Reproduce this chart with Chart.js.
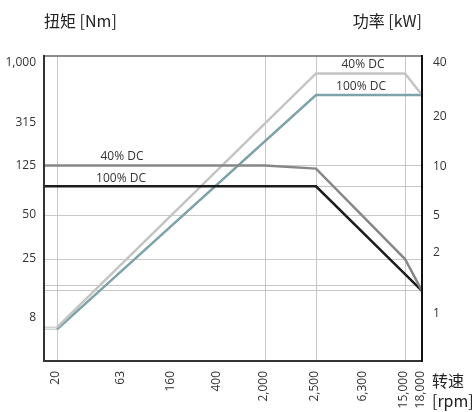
<!DOCTYPE html>
<html>
<head>
<meta charset="utf-8">
<script src="https://cdn.jsdelivr.net/npm/chart.js@4.4.0/dist/chart.umd.min.js"></script>
<style>
  body { margin: 0; background: #fff; }
  #wrap { width: 472px; height: 412px; }
</style>
</head>
<body>
<div id="wrap"><canvas id="chart"></canvas></div>
<script>
// axis tick values (rpm, Nm, kW)
const speedTicks = [20, 63, 160, 400, 2000, 2500, 6300, 15000, 18000];
const torqueTicks = [8, 25, 50, 125, 315, 1000];
const powerTicks = [1, 2, 5, 10, 20, 40];

// values that get a grid line
const speedGrid = [20, 2000, 2500, 15000];
const torqueGrid = [13.5, 15, 25, 50, 85, 125];

// torque curves [Nm]
const torqueSpeed40 = [16, 2000, 2500, 15000, 18000];
const torque40 = [125, 125, 118, 25, 13.5];
const torqueSpeed100 = [16, 2500, 18000];
const torque100 = [85, 85, 13.5];

// power curves [kW]
const powerSpeed40 = [16, 20, 2500, 15000, 18000];
const power40 = [0.86, 0.86, 35, 35, 26.5];
const powerSpeed100 = [16, 20, 2500, 18000];
const power100 = [0.84, 0.84, 26.5, 26.5];

// the drawing's axes are not to any regular scale, so each axis gets
// a list of [value, fraction of axis length] stops, log-interpolated between
class SegmentedScale extends Chart.LinearScale {
  determineDataLimits() {
    const s = this.options.stops;
    this.min = s[0][0];
    this.max = s[s.length - 1][0];
  }
  buildTicks() {
    return this.options.tickValues.map(v => ({ value: v }));
  }
  _fraction(v) {
    const s = this.options.stops;
    let i = 0;
    while (i < s.length - 2 && v > s[i + 1][0]) i++;
    const [v0, f0] = s[i], [v1, f1] = s[i + 1];
    return f0 + (Math.log(v) - Math.log(v0)) / (Math.log(v1) - Math.log(v0)) * (f1 - f0);
  }
  getPixelForValue(v) {
    const f = this._fraction(v);
    return this.isHorizontal() ? this.left + f * this.width : this.bottom - f * this.height;
  }
  getValueForPixel(p) {
    const f = this.isHorizontal() ? (p - this.left) / this.width : (this.bottom - p) / this.height;
    const s = this.options.stops;
    let i = 0;
    while (i < s.length - 2 && f > s[i + 1][1]) i++;
    const [v0, f0] = s[i], [v1, f1] = s[i + 1];
    return Math.exp(Math.log(v0) + (f - f0) / (f1 - f0) * (Math.log(v1) - Math.log(v0)));
  }
}
SegmentedScale.id = 'segmented';
SegmentedScale.defaults = {};
Chart.register(SegmentedScale);

const fmt = v => v.toLocaleString('en-US');
const pts = (xs, ys) => xs.map((x, i) => ({ x: x, y: ys[i] }));
const tickFont = { family: "'Open Sans', 'Noto Sans', sans-serif", size: 12 };
const cjkFont = "16px 'Noto Sans CJK SC', 'Open Sans', sans-serif";

const decorations = {
  id: 'decorations',
  afterDatasetsDraw(chart) {
    const { ctx, chartArea: a, scales } = chart;
    ctx.save();
    // frame
    ctx.lineCap = 'square';
    ctx.strokeStyle = '#666'; ctx.lineWidth = 1.5;
    ctx.beginPath(); ctx.moveTo(a.left, a.top); ctx.lineTo(a.right, a.top); ctx.stroke();
    ctx.strokeStyle = '#333'; ctx.lineWidth = 2;
    ctx.beginPath(); ctx.moveTo(a.left, a.top); ctx.lineTo(a.left, a.bottom); ctx.lineTo(a.right, a.bottom); ctx.stroke();
    ctx.strokeStyle = '#111';
    ctx.beginPath(); ctx.moveTo(a.right, a.top); ctx.lineTo(a.right, a.bottom); ctx.stroke();

    // curve labels
    ctx.fillStyle = '#333';
    ctx.font = "12px 'Open Sans', 'Noto Sans', sans-serif";
    ctx.textAlign = 'center';
    ctx.textBaseline = 'middle';
    const x = scales.x, yT = scales.yT, yP = scales.yP;
    ctx.fillText('40% DC', x.getPixelForValue(63), yT.getPixelForValue(torque40[0]) - 9);
    ctx.fillText('100% DC', x.getPixelForValue(63) - 1, yT.getPixelForValue(torque100[0]) - 8);
    ctx.fillText('40% DC', x.getPixelForValue(6300) - 1, yP.getPixelForValue(power40[2]) - 9);
    ctx.fillText('100% DC', x.getPixelForValue(6300) - 3, yP.getPixelForValue(power100[2]) - 8);

    // axis titles
    ctx.font = cjkFont;
    ctx.fillStyle = '#222';
    ctx.textAlign = 'left';
    ctx.fillText('扭矩 [Nm]', a.left, 21);
    ctx.textAlign = 'right';
    ctx.fillText('功率 [kW]', a.right, 21);
    ctx.textAlign = 'left';
    ctx.fillText('转速', a.right + 10, a.bottom + 20);
    ctx.fillText('[rpm]', a.right + 10, a.bottom + 40);
    ctx.restore();
  }
};

const stubColor = c => ctx => ctx.p0DataIndex === 0 ? '#d2d2d2' : c;
const stubWidth = ctx => ctx.p0DataIndex === 0 ? 1.5 : 2.5;

new Chart(document.getElementById('chart'), {
  type: 'line',
  data: {
    datasets: [
      { label: 'Torque 40% DC', data: pts(torqueSpeed40, torque40), yAxisID: 'yT',
        borderColor: '#878787', borderWidth: 2.5 },
      { label: 'Torque 100% DC', data: pts(torqueSpeed100, torque100), yAxisID: 'yT',
        borderColor: '#1c1c1c', borderWidth: 2.5 },
      { label: 'Power 40% DC', data: pts(powerSpeed40, power40), yAxisID: 'yP',
        borderColor: '#c4c4c4', borderWidth: 2.5,
        segment: { borderColor: stubColor('#c4c4c4'), borderWidth: stubWidth } },
      { label: 'Power 100% DC', data: pts(powerSpeed100, power100), yAxisID: 'yP',
        borderColor: '#7da2aa', borderWidth: 2.5,
        segment: { borderColor: stubColor('#7da2aa'), borderWidth: stubWidth } }
    ]
  },
  options: {
    responsive: true,
    maintainAspectRatio: false,
    animation: false,
    layout: { padding: { top: 56, left: 0, right: 0, bottom: 0 } },
    elements: { point: { radius: 0 }, line: { tension: 0 } },
    plugins: { legend: { display: false }, tooltip: { enabled: false } },
    scales: {
      x: {
        type: 'segmented',
        position: 'bottom',
        stops: [[16, 0], [20, 13 / 378], [63, 78 / 378], [160, 128 / 378], [400, 174 / 378],
                [2000, 221 / 378], [2500, 272 / 378], [6300, 320 / 378], [15000, 361 / 378], [18000, 1]],
        tickValues: speedTicks,
        afterFit: s => { s.height = 51; },
        border: { display: false },
        grid: {
          drawTicks: false,
          lineWidth: 1,
          color: c => c.tick && speedGrid.includes(c.tick.value) ? '#c8c8c8' : 'rgba(0,0,0,0)'
        },
        ticks: {
          autoSkip: false, minRotation: 90, maxRotation: 90, padding: 10,
          color: '#333', font: tickFont, labelOffset: -1,
          callback: v => fmt(v)
        }
      },
      yT: {
        type: 'segmented',
        position: 'left',
        stops: [[8, 43 / 305], [25, 102 / 305], [50, 146 / 305], [125, 195.5 / 305], [315, 238 / 305], [1000, 298 / 305]],
        tickValues: [...new Set([...torqueTicks, ...torqueGrid])].sort((a, b) => a - b),
        afterFit: s => { s.width = 44; },
        border: { display: false },
        grid: {
          drawTicks: false,
          lineWidth: 1,
          color: c => c.tick && torqueGrid.includes(c.tick.value) ? '#c8c8c8' : 'rgba(0,0,0,0)'
        },
        ticks: {
          autoSkip: false, padding: 8, color: '#333', font: tickFont,
          callback: v => torqueTicks.includes(v) ? fmt(v) : ''
        }
      },
      yP: {
        type: 'segmented',
        position: 'right',
        stops: [[1, 47 / 305], [2, 108 / 305], [5, 145 / 305], [10, 194 / 305], [20, 244 / 305], [40, 298 / 305]],
        tickValues: powerTicks,
        afterFit: s => { s.width = 50; },
        border: { display: false },
        grid: { display: false, drawTicks: false },
        ticks: {
          autoSkip: false, padding: 11, color: '#333', font: tickFont,
          callback: v => fmt(v)
        }
      }
    }
  },
  plugins: [decorations]
});
</script>
</body>
</html>
